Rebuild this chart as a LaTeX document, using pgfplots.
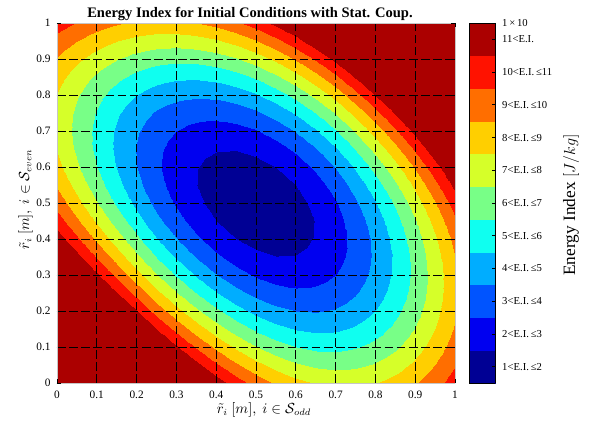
\documentclass[border=0pt]{standalone}
\usepackage{fontspec}
\setmainfont{Liberation Serif}
\usepackage{pgfplots}
\pgfplotsset{compat=1.18}

\begin{document}
\begin{tikzpicture}
\useasboundingbox (-42.75pt,-32.25pt) rectangle (399.75pt,287.25pt);
\begin{axis}[
    view={0}{90},
    scale only axis,
    width=298.5pt, height=270pt,
    xmin=0, xmax=1, ymin=0, ymax=1,
    xtick={0.1,0.2,0.3,0.4,0.5,0.6,0.7,0.8,0.9},
    ytick={0.1,0.2,0.3,0.4,0.5,0.6,0.7,0.8,0.9},
    extra x ticks={0,1}, extra y ticks={0,1},
    extra x tick style={grid=none}, extra y tick style={grid=none},
    grid=major,
    major grid style={black, line width=0.6pt, dash pattern=on 6.5pt off 2.6pt},
    axis on top,
    axis line style={gray!45, line width=0.5pt},
    tick align=inside, major tick length=3pt,
    tick style={black, line width=0.5pt},
    /pgf/number format/assume math mode=true,
    tick label style={font=\fontsize{8.5}{10}\selectfont},
    xticklabel style={yshift=-2.8pt},
    yticklabel style={xshift=-1.3pt},
    title={Energy Index for Initial Conditions with Stat. Coup.},
    every axis title shift=0pt,
    title style={at={(0.5,1)}, anchor=base, yshift=4.1pt, xshift=-4.5pt,
        font=\bfseries\fontsize{10.9}{12}\selectfont},
    xlabel={$\tilde{r}_i\ [m],\ i\in\mathcal{S}_{odd}$},
    ylabel={$\tilde{r}_i\ [m],\ i\in\mathcal{S}_{even}$},
    every axis x label/.style={at={(axis description cs:0.52,-0.085)}, anchor=base,
        font=\fontsize{10.5}{12}\selectfont},
    every axis y label/.style={at={(axis description cs:-0.07,0.51)}, anchor=base,
        rotate=90, font=\fontsize{10.5}{12}\selectfont},
    colormap={ei}{rgb=(0,0,0.58) rgb=(0,0,0.94) rgb=(0,0.33,1) rgb=(0,0.68,1)
        rgb=(0.06,1,0.94) rgb=(0.47,1,0.53) rgb=(0.84,1,0.16) rgb=(1,0.81,0)
        rgb=(1,0.43,0) rgb=(1,0.07,0) rgb=(0.67,0,0)},
    colormap access=piecewise constant,
    point meta min=1, point meta max=12,
    colorbar,
    colorbar style={
        at={(parent axis.north east)}, anchor=north west, xshift=2.25pt,
        width=19.5pt,
        colormap access=piecewise constant,
        ytick={1.5,2.5,3.5,4.5,5.5,6.5,7.5,8.5,9.5,10.5,11.5,12},
        yticklabels={1<E.I.\,≤2, 2<E.I.\,≤3, 3<E.I.\,≤4, 4<E.I.\,≤5, 5<E.I.\,≤6,
            6<E.I.\,≤7, 7<E.I.\,≤8, 8<E.I.\,≤9, 9<E.I.\,≤10, 10<E.I.\,≤11,
            11<E.I., 1\,×\,10},
        yticklabel style={font=\fontsize{8}{9}\selectfont, xshift=1.6pt},
        ytick pos=right,
        tick align=inside, major tick length=2.5pt,
        tick style={black, line width=0.5pt},
        axis line style={black, line width=0.4pt},
    },
]
\addplot3[surf, shader=interp, mesh/cols=21, mesh/rows=21] table[row sep=\\] {
x y z\\
0 0 14\\ 0.05 0 14\\ 0.1 0 14\\ 0.15 0 14\\ 0.2 0 14\\ 0.25 0 14\\ 0.3 0 14\\ 0.35 0 12.72\\ 0.4 0 11.55\\ 0.45 0 10.51\\ 0.5 0 9.61\\ 0.55 0 8.87\\ 0.6 0 8.31\\ 0.65 0 7.94\\ 0.7 0 7.76\\ 0.75 0 7.77\\ 0.8 0 7.97\\ 0.85 0 8.36\\ 0.9 0 8.92\\ 0.95 0 9.64\\ 1 0 10.50\\
0 0.05 14\\ 0.05 0.05 14\\ 0.1 0.05 14\\ 0.15 0.05 14\\ 0.2 0.05 14\\ 0.25 0.05 14\\ 0.3 0.05 12.58\\ 0.35 0.05 11.32\\ 0.4 0.05 10.17\\ 0.45 0.05 9.16\\ 0.5 0.05 8.31\\ 0.55 0.05 7.63\\ 0.6 0.05 7.13\\ 0.65 0.05 6.83\\ 0.7 0.05 6.72\\ 0.75 0.05 6.81\\ 0.8 0.05 7.09\\ 0.85 0.05 7.56\\ 0.9 0.05 8.21\\ 0.95 0.05 9.01\\ 1 0.05 9.95\\
0 0.1 14\\ 0.05 0.1 14\\ 0.1 0.1 14\\ 0.15 0.1 14\\ 0.2 0.1 14\\ 0.25 0.1 12.48\\ 0.3 0.1 11.14\\ 0.35 0.1 9.91\\ 0.4 0.1 8.80\\ 0.45 0.1 7.84\\ 0.5 0.1 7.04\\ 0.55 0.1 6.43\\ 0.6 0.1 6.00\\ 0.65 0.1 5.77\\ 0.7 0.1 5.75\\ 0.75 0.1 5.92\\ 0.8 0.1 6.29\\ 0.85 0.1 6.84\\ 0.9 0.1 7.57\\ 0.95 0.1 8.46\\ 1 0.1 9.48\\
0 0.15 14\\ 0.05 0.15 14\\ 0.1 0.15 14\\ 0.15 0.15 14\\ 0.2 0.15 12.43\\ 0.25 0.15 11.03\\ 0.3 0.15 9.73\\ 0.35 0.15 8.53\\ 0.4 0.15 7.47\\ 0.45 0.15 6.56\\ 0.5 0.15 5.83\\ 0.55 0.15 5.29\\ 0.6 0.15 4.95\\ 0.65 0.15 4.80\\ 0.7 0.15 4.86\\ 0.75 0.15 5.12\\ 0.8 0.15 5.58\\ 0.85 0.15 6.23\\ 0.9 0.15 7.04\\ 0.95 0.15 8.01\\ 1 0.15 9.11\\
0 0.2 14\\ 0.05 0.2 14\\ 0.1 0.2 14\\ 0.15 0.2 12.43\\ 0.2 0.2 11.00\\ 0.25 0.2 9.63\\ 0.3 0.2 8.36\\ 0.35 0.2 7.21\\ 0.4 0.2 6.21\\ 0.45 0.2 5.38\\ 0.5 0.2 4.72\\ 0.55 0.2 4.26\\ 0.6 0.2 4.00\\ 0.65 0.2 3.94\\ 0.7 0.2 4.09\\ 0.75 0.2 4.45\\ 0.8 0.2 5.00\\ 0.85 0.2 5.73\\ 0.9 0.2 6.63\\ 0.95 0.2 7.69\\ 1 0.2 8.87\\
0 0.25 14\\ 0.05 0.25 14\\ 0.1 0.25 12.48\\ 0.15 0.25 11.03\\ 0.2 0.25 9.63\\ 0.25 0.25 8.31\\ 0.3 0.25 7.09\\ 0.35 0.25 6.00\\ 0.4 0.25 5.07\\ 0.45 0.25 4.30\\ 0.5 0.25 3.73\\ 0.55 0.25 3.36\\ 0.6 0.25 3.18\\ 0.65 0.25 3.22\\ 0.7 0.25 3.47\\ 0.75 0.25 3.91\\ 0.8 0.25 4.55\\ 0.85 0.25 5.38\\ 0.9 0.25 6.36\\ 0.95 0.25 7.50\\ 1 0.25 8.75\\
0 0.3 14\\ 0.05 0.3 12.58\\ 0.1 0.3 11.14\\ 0.15 0.3 9.73\\ 0.2 0.3 8.36\\ 0.25 0.3 7.09\\ 0.3 0.3 5.93\\ 0.35 0.3 4.91\\ 0.4 0.3 4.05\\ 0.45 0.3 3.37\\ 0.5 0.3 2.89\\ 0.55 0.3 2.60\\ 0.6 0.3 2.52\\ 0.65 0.3 2.66\\ 0.7 0.3 3.00\\ 0.75 0.3 3.54\\ 0.8 0.3 4.27\\ 0.85 0.3 5.18\\ 0.9 0.3 6.25\\ 0.95 0.3 7.46\\ 1 0.3 8.79\\
0 0.35 12.72\\ 0.05 0.35 11.32\\ 0.1 0.35 9.91\\ 0.15 0.35 8.53\\ 0.2 0.35 7.21\\ 0.25 0.35 6.00\\ 0.3 0.35 4.91\\ 0.35 0.35 3.96\\ 0.4 0.35 3.19\\ 0.45 0.35 2.60\\ 0.5 0.35 2.21\\ 0.55 0.35 2.02\\ 0.6 0.35 2.04\\ 0.65 0.35 2.26\\ 0.7 0.35 2.70\\ 0.75 0.35 3.33\\ 0.8 0.35 4.16\\ 0.85 0.35 5.15\\ 0.9 0.35 6.30\\ 0.95 0.35 7.59\\ 1 0.35 8.98\\
0 0.4 11.55\\ 0.05 0.4 10.17\\ 0.1 0.4 8.80\\ 0.15 0.4 7.47\\ 0.2 0.4 6.21\\ 0.25 0.4 5.07\\ 0.3 0.4 4.05\\ 0.35 0.4 3.19\\ 0.4 0.4 2.50\\ 0.45 0.4 2.01\\ 0.5 0.4 1.71\\ 0.55 0.4 1.62\\ 0.6 0.4 1.73\\ 0.65 0.4 2.06\\ 0.7 0.4 2.59\\ 0.75 0.4 3.31\\ 0.8 0.4 4.22\\ 0.85 0.4 5.30\\ 0.9 0.4 6.53\\ 0.95 0.4 7.87\\ 1 0.4 9.32\\
0 0.45 10.51\\ 0.05 0.45 9.16\\ 0.1 0.45 7.84\\ 0.15 0.45 6.56\\ 0.2 0.45 5.38\\ 0.25 0.45 4.30\\ 0.3 0.45 3.37\\ 0.35 0.45 2.60\\ 0.4 0.45 2.01\\ 0.45 0.45 1.60\\ 0.5 0.45 1.40\\ 0.55 0.45 1.41\\ 0.6 0.45 1.62\\ 0.65 0.45 2.04\\ 0.7 0.45 2.67\\ 0.75 0.45 3.48\\ 0.8 0.45 4.47\\ 0.85 0.45 5.63\\ 0.9 0.45 6.92\\ 0.95 0.45 8.33\\ 1 0.45 9.82\\
0 0.5 9.61\\ 0.05 0.5 8.31\\ 0.1 0.5 7.04\\ 0.15 0.5 5.83\\ 0.2 0.5 4.72\\ 0.25 0.5 3.73\\ 0.3 0.5 2.89\\ 0.35 0.5 2.21\\ 0.4 0.5 1.71\\ 0.45 0.5 1.40\\ 0.5 0.5 1.30\\ 0.55 0.5 1.40\\ 0.6 0.5 1.71\\ 0.65 0.5 2.23\\ 0.7 0.5 2.94\\ 0.75 0.5 3.84\\ 0.8 0.5 4.91\\ 0.85 0.5 6.13\\ 0.9 0.5 7.49\\ 0.95 0.5 8.95\\ 1 0.5 10.48\\
0 0.55 8.87\\ 0.05 0.55 7.63\\ 0.1 0.55 6.43\\ 0.15 0.55 5.29\\ 0.2 0.55 4.26\\ 0.25 0.55 3.36\\ 0.3 0.55 2.60\\ 0.35 0.55 2.02\\ 0.4 0.55 1.62\\ 0.45 0.55 1.41\\ 0.5 0.55 1.40\\ 0.55 0.55 1.60\\ 0.6 0.55 2.01\\ 0.65 0.55 2.61\\ 0.7 0.55 3.41\\ 0.75 0.55 4.39\\ 0.8 0.55 5.53\\ 0.85 0.55 6.82\\ 0.9 0.55 8.22\\ 0.95 0.55 9.72\\ 1 0.55 11.29\\
0 0.6 8.31\\ 0.05 0.6 7.13\\ 0.1 0.6 6.00\\ 0.15 0.6 4.95\\ 0.2 0.6 4.00\\ 0.25 0.6 3.18\\ 0.3 0.6 2.52\\ 0.35 0.6 2.04\\ 0.4 0.6 1.73\\ 0.45 0.6 1.62\\ 0.5 0.6 1.71\\ 0.55 0.6 2.01\\ 0.6 0.6 2.50\\ 0.65 0.6 3.19\\ 0.7 0.6 4.07\\ 0.75 0.6 5.12\\ 0.8 0.6 6.33\\ 0.85 0.6 7.66\\ 0.9 0.6 9.11\\ 0.95 0.6 10.64\\ 1 0.6 12.22\\
0 0.65 7.94\\ 0.05 0.65 6.83\\ 0.1 0.65 5.77\\ 0.15 0.65 4.80\\ 0.2 0.65 3.94\\ 0.25 0.65 3.22\\ 0.3 0.65 2.66\\ 0.35 0.65 2.26\\ 0.4 0.65 2.06\\ 0.45 0.65 2.04\\ 0.5 0.65 2.23\\ 0.55 0.65 2.61\\ 0.6 0.65 3.19\\ 0.65 0.65 3.96\\ 0.7 0.65 4.91\\ 0.75 0.65 6.03\\ 0.8 0.65 7.29\\ 0.85 0.65 8.67\\ 0.9 0.65 10.15\\ 0.95 0.65 11.70\\ 1 0.65 13.28\\
0 0.7 7.76\\ 0.05 0.7 6.72\\ 0.1 0.7 5.75\\ 0.15 0.7 4.86\\ 0.2 0.7 4.09\\ 0.25 0.7 3.47\\ 0.3 0.7 3.00\\ 0.35 0.7 2.70\\ 0.4 0.7 2.59\\ 0.45 0.7 2.67\\ 0.5 0.7 2.94\\ 0.55 0.7 3.41\\ 0.6 0.7 4.07\\ 0.65 0.7 4.91\\ 0.7 0.7 5.93\\ 0.75 0.7 7.09\\ 0.8 0.7 8.40\\ 0.85 0.7 9.81\\ 0.9 0.7 11.31\\ 0.95 0.7 12.86\\ 1 0.7 14\\
0 0.75 7.77\\ 0.05 0.75 6.81\\ 0.1 0.75 5.92\\ 0.15 0.75 5.12\\ 0.2 0.75 4.45\\ 0.25 0.75 3.91\\ 0.3 0.75 3.54\\ 0.35 0.75 3.33\\ 0.4 0.75 3.31\\ 0.45 0.75 3.48\\ 0.5 0.75 3.84\\ 0.55 0.75 4.39\\ 0.6 0.75 5.12\\ 0.65 0.75 6.03\\ 0.7 0.75 7.09\\ 0.75 0.75 8.31\\ 0.8 0.75 9.64\\ 0.85 0.75 11.08\\ 0.9 0.75 12.58\\ 0.95 0.75 14\\ 1 0.75 14\\
0 0.8 7.97\\ 0.05 0.8 7.09\\ 0.1 0.8 6.29\\ 0.15 0.8 5.58\\ 0.2 0.8 5.00\\ 0.25 0.8 4.55\\ 0.3 0.8 4.27\\ 0.35 0.8 4.16\\ 0.4 0.8 4.22\\ 0.45 0.8 4.47\\ 0.5 0.8 4.91\\ 0.55 0.8 5.53\\ 0.6 0.8 6.33\\ 0.65 0.8 7.29\\ 0.7 0.8 8.40\\ 0.75 0.8 9.64\\ 0.8 0.8 11.00\\ 0.85 0.8 12.44\\ 0.9 0.8 14\\ 0.95 0.8 14\\ 1 0.8 14\\
0 0.85 8.36\\ 0.05 0.85 7.56\\ 0.1 0.85 6.84\\ 0.15 0.85 6.23\\ 0.2 0.85 5.73\\ 0.25 0.85 5.38\\ 0.3 0.85 5.18\\ 0.35 0.85 5.15\\ 0.4 0.85 5.30\\ 0.45 0.85 5.63\\ 0.5 0.85 6.13\\ 0.55 0.85 6.82\\ 0.6 0.85 7.66\\ 0.65 0.85 8.67\\ 0.7 0.85 9.81\\ 0.75 0.85 11.08\\ 0.8 0.85 12.44\\ 0.85 0.85 14\\ 0.9 0.85 14\\ 0.95 0.85 14\\ 1 0.85 14\\
0 0.9 8.92\\ 0.05 0.9 8.21\\ 0.1 0.9 7.57\\ 0.15 0.9 7.04\\ 0.2 0.9 6.63\\ 0.25 0.9 6.36\\ 0.3 0.9 6.25\\ 0.35 0.9 6.30\\ 0.4 0.9 6.53\\ 0.45 0.9 6.92\\ 0.5 0.9 7.49\\ 0.55 0.9 8.22\\ 0.6 0.9 9.11\\ 0.65 0.9 10.15\\ 0.7 0.9 11.31\\ 0.75 0.9 12.58\\ 0.8 0.9 14\\ 0.85 0.9 14\\ 0.9 0.9 14\\ 0.95 0.9 14\\ 1 0.9 14\\
0 0.95 9.64\\ 0.05 0.95 9.01\\ 0.1 0.95 8.46\\ 0.15 0.95 8.01\\ 0.2 0.95 7.69\\ 0.25 0.95 7.50\\ 0.3 0.95 7.46\\ 0.35 0.95 7.59\\ 0.4 0.95 7.87\\ 0.45 0.95 8.33\\ 0.5 0.95 8.95\\ 0.55 0.95 9.72\\ 0.6 0.95 10.64\\ 0.65 0.95 11.70\\ 0.7 0.95 12.86\\ 0.75 0.95 14\\ 0.8 0.95 14\\ 0.85 0.95 14\\ 0.9 0.95 14\\ 0.95 0.95 14\\ 1 0.95 14\\
0 1 10.50\\ 0.05 1 9.95\\ 0.1 1 9.48\\ 0.15 1 9.11\\ 0.2 1 8.87\\ 0.25 1 8.75\\ 0.3 1 8.79\\ 0.35 1 8.98\\ 0.4 1 9.32\\ 0.45 1 9.82\\ 0.5 1 10.48\\ 0.55 1 11.29\\ 0.6 1 12.22\\ 0.65 1 13.28\\ 0.7 1 14\\ 0.75 1 14\\ 0.8 1 14\\ 0.85 1 14\\ 0.9 1 14\\ 0.95 1 14\\ 1 1 14\\
};
\end{axis}
\node[rotate=90, anchor=base, font=\fontsize{13}{15}\selectfont] at (388.5pt,133.5pt) {Energy Index $[J/kg]$};
\end{tikzpicture}
\end{document}
